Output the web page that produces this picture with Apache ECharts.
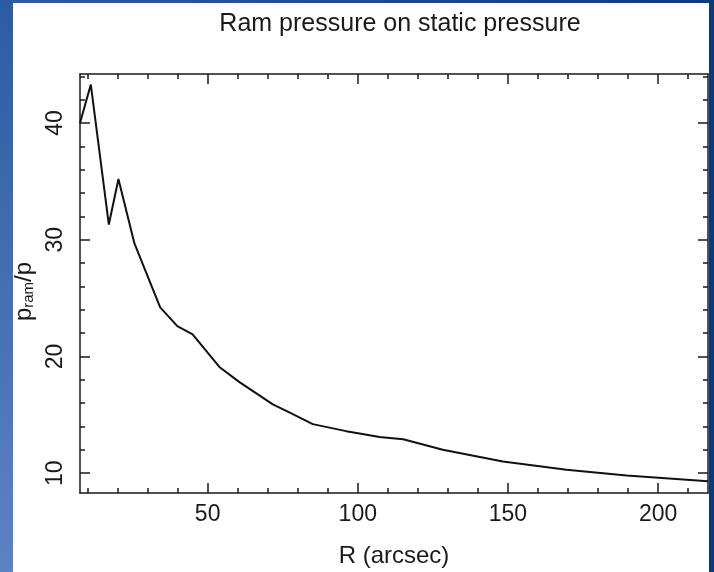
<!DOCTYPE html>
<html>
<head>
<meta charset="utf-8">
<script src="https://cdn.jsdelivr.net/npm/echarts@6/dist/echarts.min.js"></script>
<style>
html,body{margin:0;padding:0;background:#fff;}
#chart{width:714px;height:572px;}
</style>
</head>
<body>
<div id="chart"></div>
<script>
// Data
const radius = [7.5, 11.1, 17.1, 20.3, 25.6, 29.5, 34.2, 39.9, 45.0, 53.9, 60.6, 71.7, 77.2, 85.0, 96.1, 100.6, 107.2, 115.1, 128.3, 148.3, 169.5, 189.5, 216.6];
const ratio  = [40.0, 43.3, 31.3, 35.2, 29.7, 27.2, 24.2, 22.6, 21.9, 19.1, 17.8, 15.9, 15.2, 14.2, 13.6, 13.4, 13.1, 12.9, 12.0, 11.0, 10.3, 9.8, 9.3];

const xMajorTicks = [50, 100, 150, 200];
const xMinorTicks = [10, 20, 30, 40, 60, 70, 80, 90, 110, 120, 130, 140, 160, 170, 180, 190, 210];
const yMajorTicks = [10, 20, 30, 40];
const yMinorTicks = [12, 14, 16, 18, 22, 24, 26, 28, 32, 34, 36, 38, 42, 44];

const titleText = 'Ram pressure on static pressure';
const xName = 'R (arcsec)';

const X_MIN = 7.5, X_MAX = 216.6, Y_MIN = 8.3, Y_MAX = 44.2;
const FONT = '"Liberation Sans", Arial, sans-serif';
const INK = '#1a1a1a';

const points = radius.map((r, i) => [r, ratio[i]]);

function xAxisDef(pos, ticks, len, labels, line, name) {
  return {
    type: 'value', position: pos, min: X_MIN, max: X_MAX,
    splitLine: { show: false },
    axisLine: { show: line, lineStyle: { color: INK, width: 1.5 } },
    axisTick: { show: true, inside: true, length: len, customValues: ticks, lineStyle: { color: INK, width: 1.5 } },
    axisLabel: labels ? { show: true, customValues: ticks, margin: 10, fontSize: 23, color: INK, fontFamily: FONT } : { show: false },
    name: name || '', nameLocation: 'middle', nameGap: 51,
    nameTextStyle: { fontSize: 24, color: INK, fontFamily: FONT }
  };
}
function yAxisDef(pos, ticks, len, labels, line, withName) {
  const ax = {
    type: 'value', position: pos, min: Y_MIN, max: Y_MAX,
    splitLine: { show: false },
    axisLine: { show: line, lineStyle: { color: INK, width: 1.5 } },
    axisTick: { show: true, inside: true, length: len, customValues: ticks, lineStyle: { color: INK, width: 1.5 } },
    axisLabel: labels ? { show: true, customValues: ticks, rotate: 90, margin: 13, fontSize: 23, color: INK, fontFamily: FONT } : { show: false }
  };
  if (withName) {
    ax.name = '{p|p}{s|ram}{p|/p}';
    ax.nameLocation = 'middle';
    ax.nameGap = 34;
    ax.nameTextStyle = {
      color: INK, fontFamily: FONT, padding: [0, 16, 0, 0],
      rich: {
        p: { fontSize: 24, color: INK, fontFamily: FONT, verticalAlign: 'top', lineHeight: 24 },
        s: { fontSize: 15, color: INK, fontFamily: FONT, verticalAlign: 'bottom', lineHeight: 15, padding: [20, 0, 0, 0] }
      }
    };
  }
  return ax;
}

const chart = echarts.init(document.getElementById('chart'), null, { renderer: 'canvas' });
chart.setOption({
  backgroundColor: '#ffffff',
  animation: false,
  title: {
    text: titleText, left: 395, top: 7, textAlign: 'center',
    textStyle: { fontSize: 25, fontWeight: 'normal', color: INK, fontFamily: FONT }
  },
  grid: { left: 80, right: 6, top: 74, bottom: 79, containLabel: false, outerBoundsMode: 'none' },
  xAxis: [
    xAxisDef('bottom', xMajorTicks, 10, true, true, xName),
    xAxisDef('bottom', xMinorTicks, 5, false, false),
    xAxisDef('top', xMajorTicks, 10, false, true),
    xAxisDef('top', xMinorTicks, 5, false, false)
  ],
  yAxis: [
    yAxisDef('left', yMajorTicks, 10, true, true, true),
    yAxisDef('left', yMinorTicks, 5, false, false),
    yAxisDef('right', yMajorTicks, 10, false, true),
    yAxisDef('right', yMinorTicks, 5, false, false)
  ],
  graphic: [
    { type: 'rect', left: 0, top: 0, shape: { x: 0, y: 0, width: 13, height: 572 }, z: 100,
      style: { fill: new echarts.graphic.LinearGradient(0, 0, 0, 1, [{ offset: 0, color: '#2d5ba3' }, { offset: 1, color: '#5c83c4' }]) } },
    { type: 'rect', left: 0, top: 0, shape: { x: 0, y: 0, width: 714, height: 3 }, z: 100,
      style: { fill: new echarts.graphic.LinearGradient(0, 0, 1, 0, [{ offset: 0, color: '#2c5ca3' }, { offset: 1, color: '#0c3a82' }]) } },
    { type: 'rect', right: 0, top: 0, shape: { x: 0, y: 0, width: 5, height: 572 }, z: 100,
      style: { fill: '#0c3a82' } }
  ],
  series: [{
    type: 'line', data: points, xAxisIndex: 0, yAxisIndex: 0,
    showSymbol: false, symbol: 'none', smooth: false,
    lineStyle: { color: '#111', width: 2 },
    clip: true
  }]
});
</script>
</body>
</html>
